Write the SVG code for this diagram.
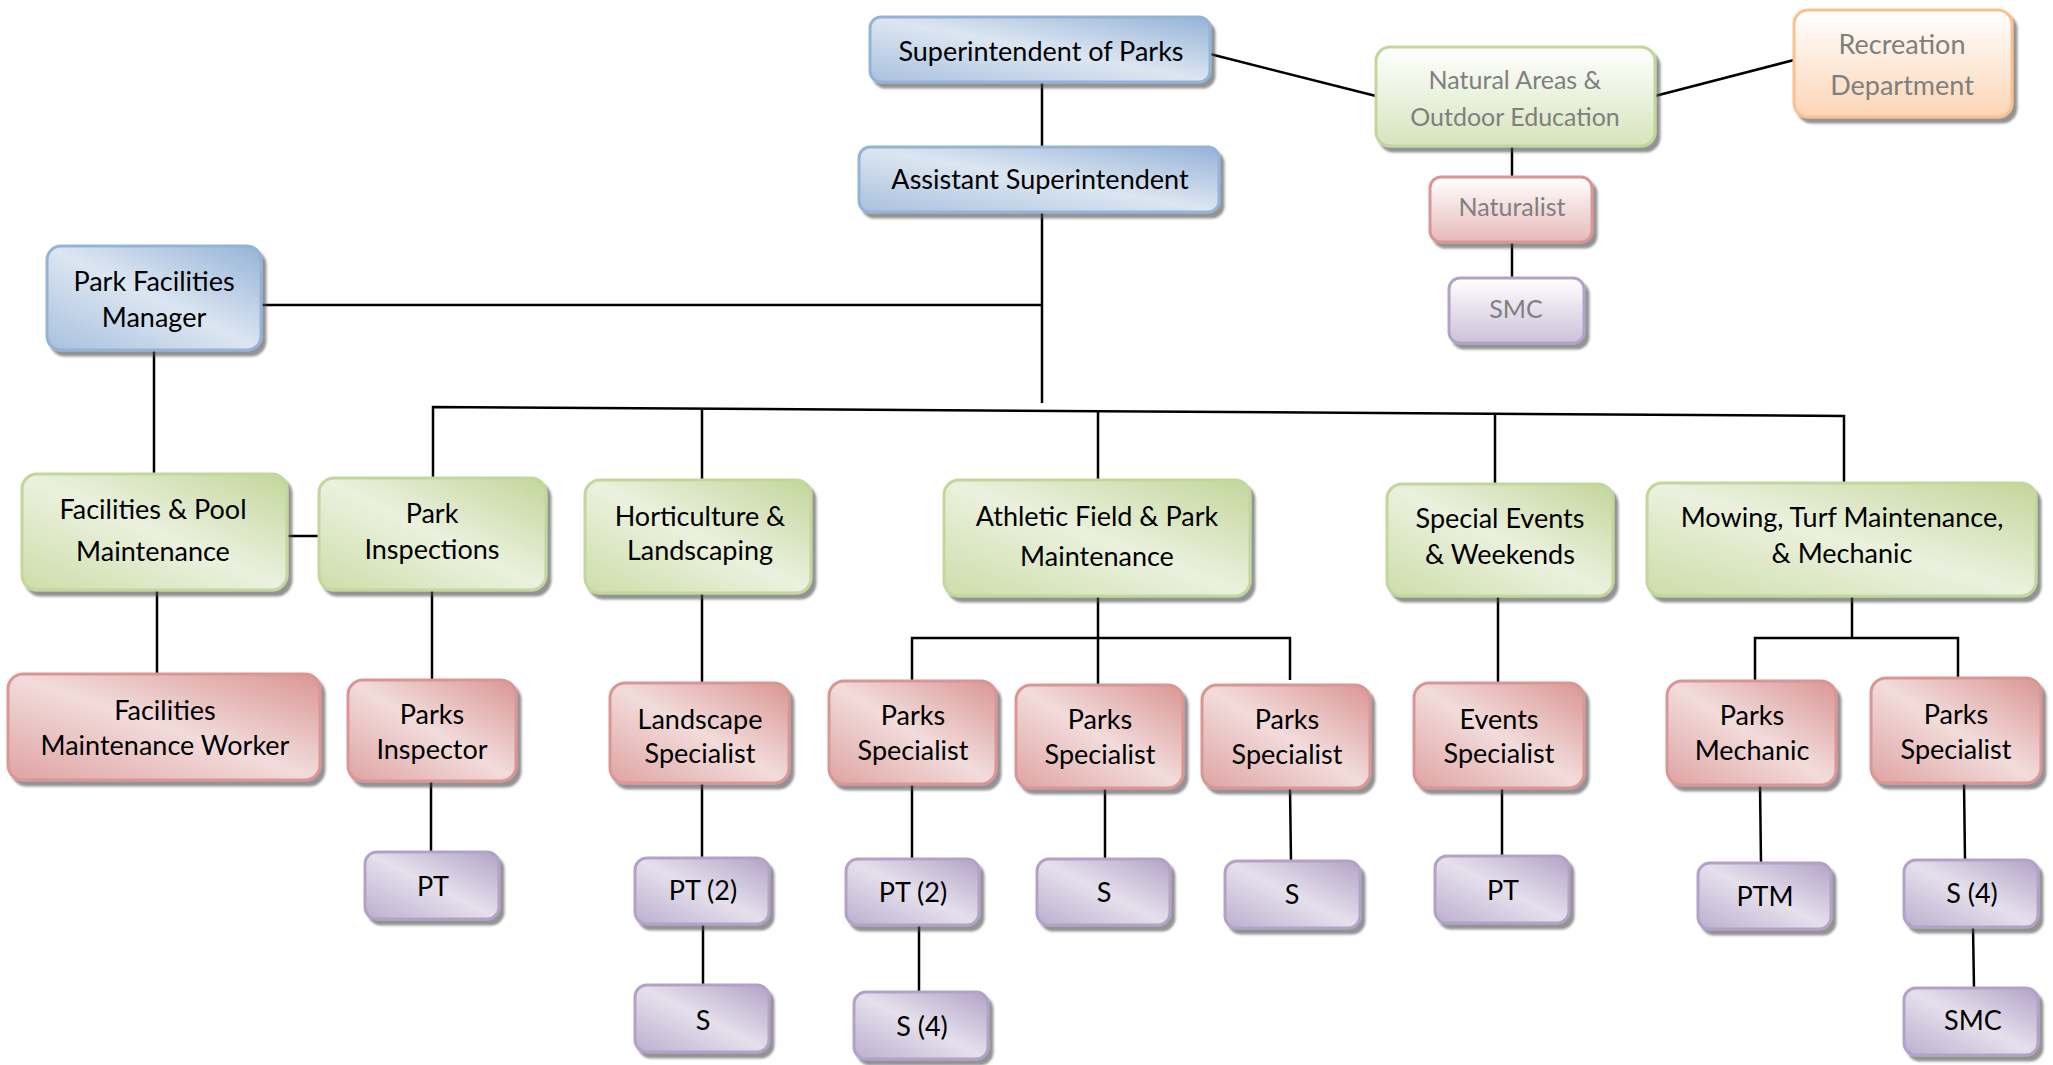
<svg xmlns="http://www.w3.org/2000/svg" width="2053" height="1065" viewBox="0 0 2053 1065">
<defs>
<linearGradient id="gBlue" x1="1" y1="0" x2="0" y2="1"><stop offset="0" stop-color="#95b3d7"/><stop offset="0.5" stop-color="#dce6f2"/><stop offset="1" stop-color="#a9c0de"/></linearGradient>
<linearGradient id="gGreen" x1="1" y1="0" x2="0" y2="1"><stop offset="0" stop-color="#c3d69b"/><stop offset="0.5" stop-color="#ebf1de"/><stop offset="1" stop-color="#cddda9"/></linearGradient>
<linearGradient id="gRed" x1="1" y1="0" x2="0" y2="1"><stop offset="0" stop-color="#d99694"/><stop offset="0.5" stop-color="#f2dcdb"/><stop offset="1" stop-color="#dea3a2"/></linearGradient>
<linearGradient id="gPurple" x1="1" y1="0" x2="0" y2="1"><stop offset="0" stop-color="#b3a2c7"/><stop offset="0.5" stop-color="#e5e0ec"/><stop offset="1" stop-color="#bcaecf"/></linearGradient>
<linearGradient id="gGreenV" x1="0" y1="0" x2="0" y2="1"><stop offset="0" stop-color="#ffffff"/><stop offset="1" stop-color="#d7e4bd"/></linearGradient>
<linearGradient id="gOrangeV" x1="0" y1="0" x2="0" y2="1"><stop offset="0" stop-color="#ffffff"/><stop offset="1" stop-color="#fcd5b5"/></linearGradient>
<linearGradient id="gRedV" x1="0" y1="0" x2="0" y2="1"><stop offset="0" stop-color="#ffffff"/><stop offset="1" stop-color="#e6b9b8"/></linearGradient>
<linearGradient id="gPurpleV" x1="0" y1="0" x2="0" y2="1"><stop offset="0" stop-color="#ffffff"/><stop offset="1" stop-color="#ccc1da"/></linearGradient>
<filter id="shadow" x="-5%" y="-5%" width="115%" height="125%"><feDropShadow dx="4" dy="5" stdDeviation="1" flood-color="#4d4d4d" flood-opacity="0.6"/></filter>
</defs>
<style>
rect{filter:url(#shadow);stroke-width:3}
.blue{fill:url(#gBlue);stroke:#95b3d7}
.green{fill:url(#gGreen);stroke:#c3d69b}
.red{fill:url(#gRed);stroke:#d99694}
.purple{fill:url(#gPurple);stroke:#b3a2c7}
.greenv{fill:url(#gGreenV);stroke:#c3d69b}
.orangev{fill:url(#gOrangeV);stroke:#fac090}
.redv{fill:url(#gRedV);stroke:#d99694}
.purplev{fill:url(#gPurpleV);stroke:#b3a2c7}
text{font-family:Lato,"Open Sans","Liberation Sans",sans-serif;font-size:27px;fill:#000;text-anchor:middle}
text.g{fill:#7f7f7f;font-size:25px}
#connectors path{fill:none;stroke:#000;stroke-width:2.5}
</style>
<rect width="2053" height="1065" fill="#fff" style="filter:none;stroke:none"/>
<g id="connectors">
<path d="M1042 82V147"/>
<path d="M1210 54L1376 96"/>
<path d="M1655 96L1794 60"/>
<path d="M1512 146V177"/>
<path d="M1512 242V278"/>
<path d="M1042 212V403"/>
<path d="M261 305H1042"/>
<path d="M154 350V474"/>
<path d="M433 478V407L1844 416V483"/>
<path d="M702 408.7V480"/>
<path d="M1098 411.2V480"/>
<path d="M1495 413.8V484"/>
<path d="M287 536H319"/>
<path d="M157 590V674"/>
<path d="M432 590V680"/>
<path d="M431 781V852"/>
<path d="M702 593V683"/>
<path d="M702 783V858"/>
<path d="M703 924V985"/>
<path d="M1098 596V685"/>
<path d="M912 681V638H1290V680"/>
<path d="M912 784V859"/>
<path d="M919 925V992"/>
<path d="M1105 788V859"/>
<path d="M1290 788L1291 861"/>
<path d="M1498 596V683"/>
<path d="M1502 788V856"/>
<path d="M1852 596V638"/>
<path d="M1755 681V638H1958V678"/>
<path d="M1760 785L1761 863"/>
<path d="M1964 783L1965 860"/>
<path d="M1973 927L1974 988"/>
</g>
<g id="n_super"><rect class="blue" x="870" y="17" width="340" height="65" rx="11"/><text x="1041" y="61">Superintendent of Parks</text></g>
<g id="n_asst"><rect class="blue" x="859" y="147" width="360" height="65" rx="11"/><text x="1040" y="189">Assistant Superintendent</text></g>
<g id="n_natural"><rect class="greenv" x="1376" y="47" width="279" height="99" rx="14"/><text class="g" x="1515" y="89">Natural Areas &amp;</text><text class="g" x="1515" y="126">Outdoor Education</text></g>
<g id="n_rec"><rect class="orangev" x="1794" y="10" width="218" height="107" rx="14"/><text class="g" x="1902" y="54" style="font-size:27px">Recreation</text><text class="g" x="1902" y="95" style="font-size:27px">Department</text></g>
<g id="n_naturalist"><rect class="redv" x="1430" y="177" width="162" height="65" rx="11"/><text class="g" x="1512" y="216">Naturalist</text></g>
<g id="n_smc_top"><rect class="purplev" x="1449" y="278" width="135" height="65" rx="11"/><text class="g" x="1516" y="318">SMC</text></g>
<g id="n_pfm"><rect class="blue" x="47" y="246" width="214" height="104" rx="14"/><text x="154" y="291">Park Facilities</text><text x="154" y="327">Manager</text></g>
<g id="n_fpm"><rect class="green" x="22" y="474" width="265" height="116" rx="15"/><text x="153" y="519">Facilities &amp; Pool</text><text x="153" y="561">Maintenance</text></g>
<g id="n_insp"><rect class="green" x="319" y="478" width="227" height="112" rx="15"/><text x="432" y="523">Park</text><text x="432" y="559">Inspections</text></g>
<g id="n_hort"><rect class="green" x="585" y="480" width="226" height="113" rx="15"/><text x="700" y="526">Horticulture &amp;</text><text x="700" y="560">Landscaping</text></g>
<g id="n_ath"><rect class="green" x="944" y="480" width="306" height="116" rx="15"/><text x="1097" y="526">Athletic Field &amp; Park</text><text x="1097" y="566">Maintenance</text></g>
<g id="n_spec"><rect class="green" x="1387" y="484" width="226" height="112" rx="15"/><text x="1500" y="528">Special Events</text><text x="1500" y="564">&amp; Weekends</text></g>
<g id="n_mow"><rect class="green" x="1647" y="483" width="389" height="113" rx="15"/><text x="1842" y="527">Mowing, Turf Maintenance,</text><text x="1842" y="563">&amp; Mechanic</text></g>
<g id="n_fmw"><rect class="red" x="8" y="674" width="312" height="106" rx="15"/><text x="165" y="720">Facilities</text><text x="165" y="755">Maintenance Worker</text></g>
<g id="n_inspector"><rect class="red" x="348" y="680" width="168" height="101" rx="15"/><text x="432" y="724">Parks</text><text x="432" y="759">Inspector</text></g>
<g id="n_landspec"><rect class="red" x="610" y="683" width="179" height="100" rx="15"/><text x="700" y="729">Landscape</text><text x="700" y="763">Specialist</text></g>
<g id="n_ps1"><rect class="red" x="829" y="681" width="167" height="103" rx="15"/><text x="913" y="725">Parks</text><text x="913" y="760">Specialist</text></g>
<g id="n_ps2"><rect class="red" x="1016" y="685" width="167" height="103" rx="15"/><text x="1100" y="729">Parks</text><text x="1100" y="764">Specialist</text></g>
<g id="n_ps3"><rect class="red" x="1202" y="685" width="168" height="103" rx="15"/><text x="1287" y="729">Parks</text><text x="1287" y="764">Specialist</text></g>
<g id="n_events"><rect class="red" x="1414" y="683" width="170" height="105" rx="15"/><text x="1499" y="729">Events</text><text x="1499" y="763">Specialist</text></g>
<g id="n_mech"><rect class="red" x="1667" y="681" width="169" height="104" rx="15"/><text x="1752" y="725">Parks</text><text x="1752" y="760">Mechanic</text></g>
<g id="n_ps4"><rect class="red" x="1871" y="678" width="170" height="105" rx="15"/><text x="1956" y="724">Parks</text><text x="1956" y="759">Specialist</text></g>
<g id="n_pt1"><rect class="purple" x="365" y="852" width="134" height="67" rx="12"/><text x="433" y="896">PT</text></g>
<g id="n_ptl"><rect class="purple" x="635" y="858" width="134" height="66" rx="12"/><text x="703" y="900">PT (2)</text></g>
<g id="n_sl"><rect class="purple" x="635" y="985" width="134" height="67" rx="12"/><text x="703" y="1030">S</text></g>
<g id="n_pta"><rect class="purple" x="846" y="859" width="133" height="66" rx="12"/><text x="913" y="902">PT (2)</text></g>
<g id="n_s4a"><rect class="purple" x="854" y="992" width="134" height="67" rx="12"/><text x="922" y="1036">S (4)</text></g>
<g id="n_s2"><rect class="purple" x="1037" y="859" width="133" height="66" rx="12"/><text x="1104" y="902">S</text></g>
<g id="n_s3"><rect class="purple" x="1225" y="861" width="135" height="67" rx="12"/><text x="1292" y="904">S</text></g>
<g id="n_pte"><rect class="purple" x="1435" y="856" width="134" height="67" rx="12"/><text x="1503" y="900">PT</text></g>
<g id="n_ptm"><rect class="purple" x="1698" y="863" width="133" height="66" rx="12"/><text x="1765" y="906">PTM</text></g>
<g id="n_s4r"><rect class="purple" x="1904" y="860" width="134" height="67" rx="12"/><text x="1972" y="903">S (4)</text></g>
<g id="n_smcr"><rect class="purple" x="1904" y="988" width="134" height="67" rx="12"/><text x="1973" y="1030">SMC</text></g>
</svg>
